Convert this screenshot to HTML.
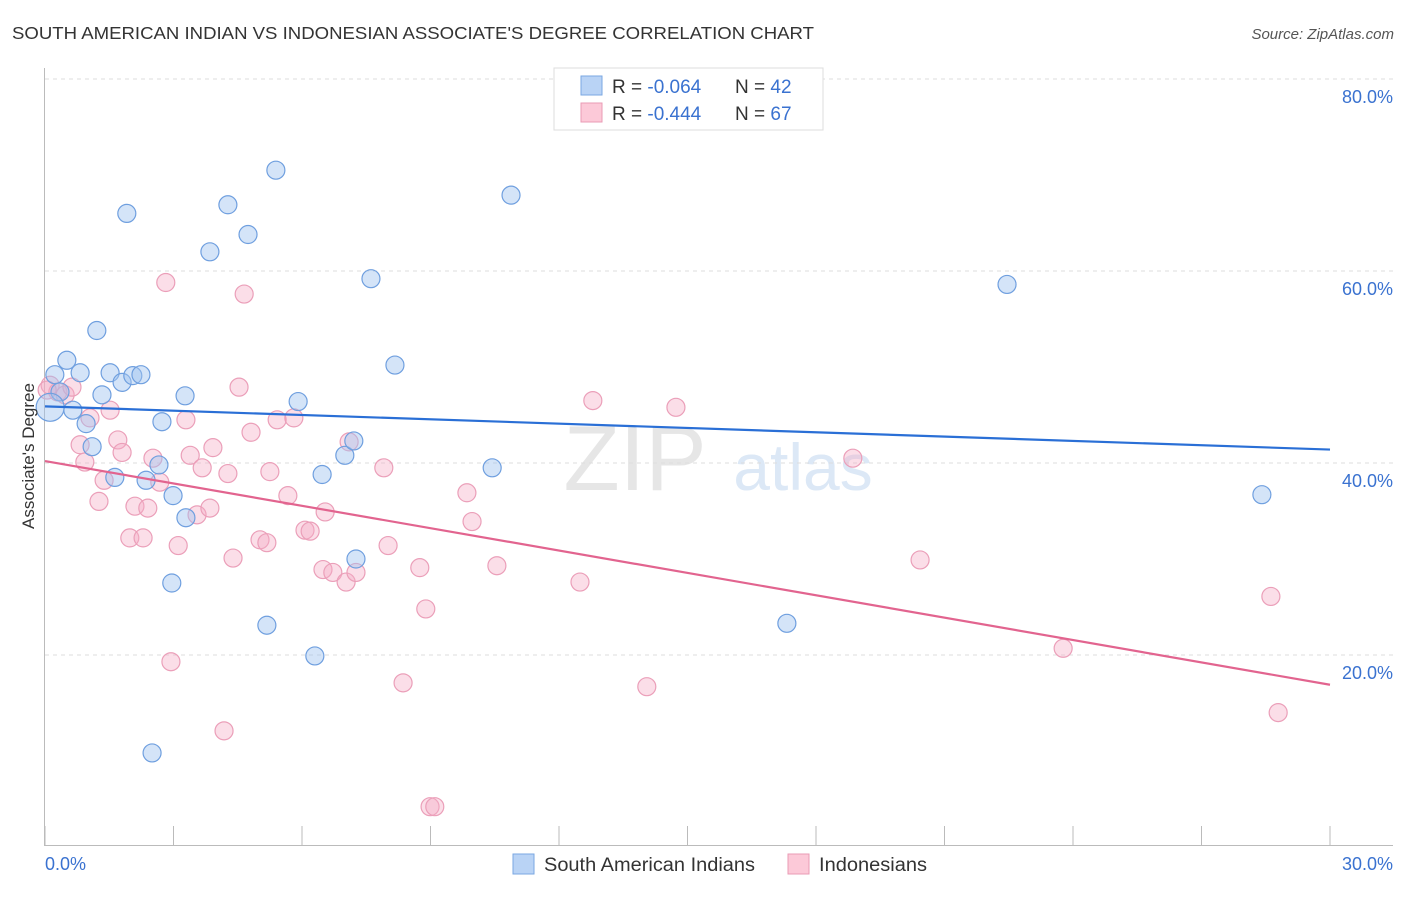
<!DOCTYPE html>
<html><head><meta charset="utf-8"><style>
body{margin:0;background:#fff;font-family:"Liberation Sans",sans-serif;}
svg text{font-family:"Liberation Sans",sans-serif;}
</style></head><body>
<svg width="1406" height="892" viewBox="0 0 1406 892">
<text x="12" y="39" font-size="17.5" fill="#333" textLength="802" lengthAdjust="spacingAndGlyphs">SOUTH AMERICAN INDIAN VS INDONESIAN ASSOCIATE'S DEGREE CORRELATION CHART</text>
<text x="1394" y="39" font-size="15" fill="#555" font-style="italic" text-anchor="end">Source: ZipAtlas.com</text>
<g>
<text x="635" y="490" font-size="92" fill="#e6e6e6" font-family="Liberation Serif" text-anchor="middle">ZIP</text>
<text x="803" y="490" font-size="66" fill="#dce8f6" text-anchor="middle">atlas</text>
</g>
<g id="grid"></g>
<g id="axes"></g>
<g id="marks"></g>
<g id="trends"></g>
<text x="34" y="456" font-size="17" fill="#333" text-anchor="middle" transform="rotate(-90 34 456)">Associate's Degree</text>
<g>
<rect x="554" y="68" width="269" height="62" fill="#fff" stroke="#ddd"/>
<rect x="581" y="76" width="21" height="19" fill="#b9d3f5" stroke="#7aa7e2"/>
<rect x="581" y="103" width="21" height="19" fill="#fcc9d8" stroke="#ea9bb5"/>
<text x="612" y="93" font-size="19" fill="#333">R = <tspan fill="#3a72d0">-0.064</tspan></text>
<text x="735" y="93" font-size="19" fill="#333">N = <tspan fill="#3a72d0">42</tspan></text>
<text x="612" y="120" font-size="19" fill="#333">R = <tspan fill="#3a72d0">-0.444</tspan></text>
<text x="735" y="120" font-size="19" fill="#333">N = <tspan fill="#3a72d0">67</tspan></text>
</g>
<g>
<rect x="513" y="854" width="21" height="20" fill="#b9d3f5" stroke="#7aa7e2"/>
<text x="544" y="871" font-size="19" fill="#333" textLength="211" lengthAdjust="spacingAndGlyphs">South American Indians</text>
<rect x="788" y="854" width="21" height="20" fill="#fcc9d8" stroke="#ea9bb5"/>
<text x="819" y="871" font-size="19" fill="#333" textLength="108" lengthAdjust="spacingAndGlyphs">Indonesians</text>
</g>
</svg>
<script>
const blueX=[0.23,0.51,0.82,0.35,0.65,0.96,1.10,1.21,1.33,1.52,1.80,2.05,2.24,1.91,2.73,2.66,2.36,2.99,3.29,2.96,2.50,3.27,1.63,4.27,3.85,4.74,5.39,5.18,5.91,6.30,6.47,7.00,7.21,7.26,7.61,8.17,10.44,10.88,17.32,22.46,28.41,0.12];
const blueY=[49.2,50.7,49.4,47.4,45.5,44.1,41.7,53.8,47.1,49.4,48.4,49.1,49.2,66.0,44.3,39.8,38.2,36.6,34.3,27.5,9.8,47.0,38.5,66.9,62.0,63.8,70.5,23.1,46.4,19.9,38.8,40.8,42.3,30.0,59.2,50.2,39.5,67.9,23.3,58.6,36.7,45.8];
const pinkX=[0.12,0.30,0.47,0.63,0.82,0.93,1.05,1.26,1.38,1.52,1.70,1.80,1.98,2.10,2.29,2.40,2.52,2.68,2.82,2.94,3.11,3.29,3.39,3.55,3.67,3.85,3.92,4.18,4.27,4.39,4.53,4.65,4.81,5.02,5.18,5.25,5.42,5.67,5.81,6.07,6.19,6.49,6.54,6.72,7.03,7.10,7.26,7.91,8.01,8.36,8.75,8.89,8.99,9.10,9.85,9.97,10.55,12.49,12.79,14.05,14.73,18.86,20.43,23.77,28.62,28.79,0.05];
const pinkY=[48.1,47.4,47.1,47.9,41.9,40.1,44.7,36.0,38.2,45.5,42.4,41.1,32.2,35.5,32.2,35.3,40.5,38.0,58.8,19.3,31.4,44.5,40.8,34.6,39.5,35.3,41.6,12.1,38.9,30.1,47.9,57.6,43.2,32.0,31.7,39.1,44.5,36.6,44.7,33.0,32.9,28.9,34.9,28.6,27.6,42.2,28.6,39.5,31.4,17.1,29.1,24.8,4.2,4.2,36.9,33.9,29.3,27.6,46.5,16.7,45.8,40.5,29.9,20.7,26.1,14.0,47.6];
const blueTrendX=[0,30];
const blueTrendY=[45.9,41.4];
const pinkTrendX=[0,30];
const pinkTrendY=[40.2,16.9];
const yTicks=[20,40,60,80];
const yTickLabels=["20.0%","40.0%","60.0%","80.0%"];
const xTicks=[0,3,6,9,12,15,18,21,24,27,30];

const NS="http://www.w3.org/2000/svg";
function sx(v){return 45+v/30*1285;}
function sy(v){return 847-v/20*192;}
function mk(tag,attrs,parent){const e=document.createElementNS(NS,tag);for(const k in attrs)e.setAttribute(k,attrs[k]);parent.appendChild(e);return e;}
const grid=document.getElementById('grid'),axes=document.getElementById('axes'),marks=document.getElementById('marks'),trends=document.getElementById('trends');
yTicks.forEach((t,i)=>{
  const l=mk('line',{x1:45,x2:1393,y1:sy(t),y2:sy(t),stroke:'#ddd','stroke-dasharray':'4,4'},grid);
  
  
  const tx=mk('text',{x:1393,y:sy(t)+24,'font-size':18,fill:'#3a72d0','text-anchor':'end'},axes);
  tx.textContent=yTickLabels[i];
  
  
});
let a=mk('line',{x1:44.5,x2:44.5,y1:68,y2:845,stroke:'#bbb'},axes);


a=mk('line',{x1:44,x2:1393,y1:845.5,y2:845.5,stroke:'#bbb'},axes);


xTicks.forEach(t=>{
  const l=mk('line',{x1:sx(t),x2:sx(t),y1:826,y2:845,stroke:'#bbb'},axes);
  
  
});
let xl=mk('text',{x:45,y:870,'font-size':18,fill:'#3a72d0'},axes);xl.textContent="0.0%";


xl=mk('text',{x:1393,y:870,'font-size':18,fill:'#3a72d0','text-anchor':'end'},axes);xl.textContent="30.0%";


pinkX.forEach((x,i)=>{
  const c=mk('circle',{cx:sx(x),cy:sy(pinkY[i]),r:9,fill:'rgba(246,172,198,0.4)',stroke:'#eb9fb9','stroke-width':1.2},marks);
  
  
});
blueX.forEach((x,i)=>{
  const c=mk('circle',{cx:sx(x),cy:sy(blueY[i]),r:(i===blueX.length-1?14:9),fill:'rgba(160,196,240,0.45)',stroke:'#6f9fdf','stroke-width':1.2},marks);
  
  
});
let tl=mk('line',{x1:sx(blueTrendX[0]),y1:sy(blueTrendY[0]),x2:sx(blueTrendX[1]),y2:sy(blueTrendY[1]),stroke:'#2a6fd6','stroke-width':2.2},trends);


tl=mk('line',{x1:sx(pinkTrendX[0]),y1:sy(pinkTrendY[0]),x2:sx(pinkTrendX[1]),y2:sy(pinkTrendY[1]),stroke:'#e2648f','stroke-width':2.2},trends);


</script>
</body></html>
